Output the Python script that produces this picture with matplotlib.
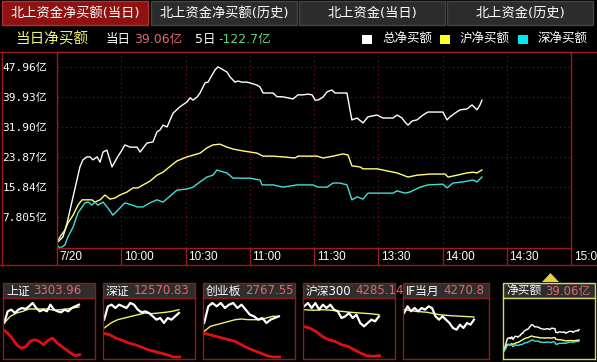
import numpy as np
import matplotlib.pyplot as plt
from matplotlib.patches import Rectangle, Polygon
import matplotlib.transforms as mtransforms

plt.rcParams['font.family'] = ['DejaVu Sans', 'Noto Sans CJK SC']

W, H = 597, 362

# main chart: minutes of trading time since 9:30, values in 亿
total_t = [0, 2.8, 4.7, 6.1, 7.5, 9.3, 10.7, 12.1, 14.0, 15.4, 16.8, 18.7, 20.1, 21.5, 23.3,
           25.7, 28.0, 30.3, 31.7, 34.1, 37.4, 38.8, 42.0, 44.8, 46.7, 48.1, 49.5, 51.4, 52.8,
           54.2, 57.4, 60.7, 62.1, 63.5, 65.4, 66.8, 69.1, 70.5, 72.4, 73.8, 75.2, 77.0, 79.4,
           80.8, 83.1, 84.5, 86.4, 88.7, 90.1, 93.4, 94.8, 96.2, 98.5, 100.9, 102.7, 105.1,
           107.9, 110.2, 112.5, 114.9, 117.2, 119.1, 120.5, 121.9, 124.2, 126.1, 128.4, 129.8,
           132.1, 135.4, 136.8, 137.7, 140.1, 142.9, 145.2, 149.4, 152.2, 156.9, 158.8, 161.1,
           162.5, 163.9, 165.8, 168.1, 170.9, 173.2, 176.5, 180.2, 182.1, 183.5, 185.8, 188.2,
           191.4, 193.8, 196.1, 197.5, 198.4]
total_v = [0.9, 2.5, 6.2, 9.7, 13.2, 17.7, 21.2, 23.1, 23.9, 23.9, 23.1, 23.9, 22.5, 25.2, 25.7,
           21.2, 23.6, 25.7, 27.1, 26.5, 26.5, 25.2, 27.6, 27.9, 30.6, 31.1, 32.4, 31.9, 33.8,
           35.6, 37.3, 38.6, 39.7, 39.1, 39.9, 41.0, 43.7, 43.9, 45.8, 47.2, 48.0, 47.4, 46.6,
           45.3, 43.9, 44.2, 43.9, 43.9, 43.7, 43.1, 42.6, 41.0, 41.0, 41.0, 40.0, 40.0,
           39.7, 39.4, 40.5, 40.5, 40.7, 40.5, 39.1, 39.1, 39.9, 41.3, 41.8, 41.0,
           41.0, 41.0, 36.5, 33.8, 34.3, 33.0, 34.6, 35.1, 34.3, 34.3, 35.1, 34.3,
           33.2, 32.4, 33.5, 33.8, 35.1, 35.9, 35.9, 35.9, 33.8, 34.6, 35.6, 36.5,
           36.7, 37.8, 36.5, 37.8, 39.06]

sh_t = [0, 1.4, 3.7, 5.1, 7.5, 9.8, 11.7, 14.0, 16.3, 17.7, 20.1, 22.4, 24.7, 27.1, 29.4, 32.7,
        35.5, 37.8, 40.2, 43.4, 46.7, 49.5, 51.8, 56.0, 60.7, 66.8, 70.0, 72.8, 76.1, 79.4, 82.2,
        86.8, 93.4, 96.2, 100.9, 105.5, 111.1, 112.5, 121.4, 124.2, 128.9, 133.5, 135.9, 137.7,
        141.5, 142.9, 149.4, 158.8, 163.9, 168.1, 174.2, 181.2, 182.6, 186.8, 191.4, 194.2,
        196.1, 198.4]
sh_v = [1.1, 2.5, 4.3, 6.2, 8.3, 11.0, 12.4, 12.4, 12.4, 11.8, 12.4, 13.7, 12.6, 12.9, 13.7, 14.5,
        15.6, 15.6, 16.4, 17.4, 19.0, 19.8, 20.9, 22.8, 23.9, 24.9, 26.3, 27.1, 27.3, 26.5, 26.0,
        25.5, 24.9, 24.1, 24.1, 23.9, 23.6, 24.1, 24.1, 23.6, 24.1, 24.7, 24.4, 21.5,
        21.2, 20.7, 20.7, 19.6, 18.5, 19.0, 19.3, 19.3, 18.5, 19.0, 19.6, 19.8,
        19.6, 20.4]

sz_t = [0, 1.4, 3.7, 5.1, 7.5, 9.8, 11.7, 13.1, 14.5, 16.3, 17.7, 19.1, 21.5, 23.8, 26.1, 28.5,
        31.7, 35.0, 37.4, 40.2, 43.4, 46.7, 49.5, 51.8, 56.0, 60.7, 63.5, 66.8, 70.0, 72.8, 74.7,
        76.1, 79.4, 82.2, 86.8, 90.1, 94.8, 95.7, 100.9, 105.5, 112.1, 119.5, 121.9, 126.1,
        128.9, 132.1, 135.4, 137.7, 140.1, 142.9, 145.2, 150.8, 156.9, 158.8, 162.5, 164.8,
        169.5, 173.2, 180.2, 182.1, 184.9, 189.6, 194.2, 196.1, 198.4]
sz_v = [0.3, -0.5, 0.3, 2.5, 5.1, 8.9, 10.5, 11.6, 11.8, 11.0, 11.8, 11.0, 11.8, 10.2, 8.3, 9.7,
        11.6, 11.0, 10.5, 10.5, 11.6, 12.4, 11.8, 12.9, 15.0, 15.3, 15.8, 17.2, 18.5, 19.0, 20.4,
        20.1, 19.6, 18.2, 18.2, 18.2, 17.7, 16.4, 16.4, 15.8, 16.4, 16.4, 15.8, 15.8,
        16.9, 16.9, 16.4, 12.4, 13.2, 12.6, 14.2, 14.2, 14.2, 14.8, 14.2, 14.5,
        15.8, 16.4, 16.6, 15.6, 16.9, 17.2, 17.7, 17.2, 18.5]

ytick_vals = [7.805, 15.84, 23.87, 31.90, 39.93, 47.96]
ytick_labels = ['7.805亿', '15.84亿', '23.87亿', '31.90亿', '39.93亿', '47.96亿']
xtick_vals = [0, 30, 60, 90, 120, 150, 180, 210, 240]
xtick_labels = ['7/20', '10:00', '10:30', '11:00', '11:30', '13:30', '14:00', '14:30', '15:00']

tab_labels = ['北上资金净买额(当日)', '北上资金净买额(历史)', '北上资金(当日)', '北上资金(历史)']
today_net = '39.06亿'
five_day_net = '-122.7亿'

# thumbnails (relative units)
sh_index = [4.0, 7.5, 8.0, 7.0, 8.0, 8.5, 8.2, 9.0, 10.0, 8.5, 7.5, 8.0, 7.5, 9.5, 8.0, 7.5, 7.2, 8.0, 7.5, 8.5, 9.0, 9.5]
sh_avg = [4.0, 6.0, 7.0, 7.5, 8.2, 8.2, 8.2, 8.2, 7.8, 8.0, 8.2, 8.5, 8.8]
sh_flow = [2.0, 1.0, -0.5, -2.5, -3.5, -3.2, -1.5, -1.0, -1.5, -2.5, -1.2, -0.5, -2.0, -3.0, -4.0, -5.0, -5.8, -5.5]
sz_index = [5.0, 9.0, 9.5, 8.5, 9.5, 9.0, 8.5, 10.0, 9.5, 8.0, 7.2, 7.5, 7.0, 6.0, 5.0, 5.5, 4.0, 5.5, 5.0, 6.0, 7.0]
sz_avg = [2.5, 4.0, 5.0, 5.5, 6.0, 6.5, 7.0, 6.8, 7.0, 7.2, 7.5, 8.0]
sz_flow = [1.0, 0.5, -0.5, -1.2, -2.0, -2.5, -3.2, -4.0, -4.5, -5.0, -5.5, -6.2, -6.2]
cyb_index = [4.0, 9.0, 10.0, 9.0, 10.0, 8.5, 9.5, 10.0, 8.5, 9.5, 8.0, 6.5, 6.0, 5.0, 5.5, 4.0, 5.0, 5.5, 6.0]
cyb_avg = [1.5, 3.0, 3.5, 4.0, 4.5, 5.0, 5.2, 5.0, 5.0, 5.0, 5.5, 6.0, 6.0]
cyb_flow = [1.0, 0.5, 0.0, -0.5, -1.0, -1.5, -2.5, -3.5, -4.3, -5.0, -5.8, -6.2, -6.2]
hs300_index = [9.0, 10.0, 8.5, 10.0, 8.0, 9.5, 8.5, 9.5, 8.0, 7.5, 5.5, 6.0, 7.0, 5.5, 6.5, 4.0, 3.0, 4.0, 5.0, 4.5, 6.0]
hs300_avg = [8.0, 7.8, 8.0, 7.8, 7.5, 7.2, 7.0, 6.8, 6.5]
hs300_flow = [3.0, 2.5, 1.5, 0.0, -1.0, -1.5, -2.5, -3.0, -4.0, -5.0, -5.8, -6.0, -5.8]
if_index = [7.0, 9.0, 7.5, 8.5, 7.5, 8.5, 8.0, 9.0, 8.5, 6.0, 5.0, 6.0, 5.0, 4.0, 2.5, 2.0, 3.5, 2.5, 4.0, 3.5, 5.0]
if_avg = [8.0, 7.5, 7.2, 6.5, 6.2, 6.0, 5.8]

thumb_names = ['上证', '深证', '创业板', '沪深300', 'IF当月', '净买额']
thumb_values = ['3303.96', '12570.83', '2767.55', '4285.14', '4270.8', '39.06亿']

RED = '#a01818'
GRID = '#8a1414'
PINK = '#e06a6a'


def rect(x0, y0, x1, y1):
    return [x0 / W, 1 - y1 / H, (x1 - x0) / W, (y1 - y0) / H]


fig = plt.figure(figsize=(W / 100, H / 100), dpi=100, facecolor='black')

# background layer for tabs, headers and frames, in pixel units
bg = fig.add_axes([0, 0, 1, 1])
bg.set_xlim(0, W)
bg.set_ylim(H, 0)
bg.axis('off')
bg.set_facecolor('black')

tab_x = [(2, 148), (151, 297), (299, 445), (447, 593)]
for i, (x0, x1) in enumerate(tab_x):
    fc = '#8e1212' if i == 0 else '#2c2c2c'
    ec = '#b03030' if i == 0 else '#454545'
    bg.add_patch(Rectangle((x0, 1), x1 - x0, 24, facecolor=fc, edgecolor=ec, lw=1))
    bg.text((x0 + x1) / 2, 13.5, tab_labels[i], color='white', fontsize=9.5,
            ha='center', va='center')

bg.text(15, 39, '当日净买额', color='#f2f27a', fontsize=10.5, va='center')
bg.text(106, 39, '当日', color='white', fontsize=9, va='center')
bg.text(134, 39, today_net, color=PINK, fontsize=9, va='center')
bg.text(195, 39, '5日', color='white', fontsize=9, va='center')
bg.text(218, 39, five_day_net, color='#5ad27a', fontsize=9, va='center')

legend_items = [('总净买额', 'white', 362), ('沪净买额', '#ffff30', 440), ('深净买额', '#00e8f0', 518)]
for name, col, lx in legend_items:
    bg.add_patch(Rectangle((lx, 35), 10, 9, facecolor=col, edgecolor='none'))
    bg.text(lx + 20, 39.5, name, color='white', fontsize=9, va='center')

# frame lines around the main chart
bg.plot([0, 596], [52, 52], color=RED, lw=1)
bg.plot([0, 596], [265, 265], color=RED, lw=1)
bg.plot([2, 2], [52, 265], color=RED, lw=1)

# main chart
ax = fig.add_axes(rect(57, 52, 571, 248))
ax.set_facecolor('black')
ax.plot(total_t, total_v, color='white', lw=1)
ax.plot(sh_t, sh_v, color='#ffff80', lw=1)
ax.plot(sz_t, sz_v, color='#40e0d8', lw=1)
ax.set_xlim(0, 240)
ax.set_ylim(-0.49, 51.97)
for s in ax.spines.values():
    s.set_color(RED)
    s.set_linewidth(1)
ax.set_yticks(ytick_vals)
ax.set_yticklabels(ytick_labels, color='white', fontsize=8,
                   family=['DejaVu Sans Mono', 'Noto Sans CJK SC'])
ax.set_xticks(xtick_vals)
ax.set_xticklabels([])
ax.tick_params(length=0, pad=7)
ax.grid(True, color=GRID, linestyle=(0, (1, 3)), lw=0.8)

trans = mtransforms.blended_transform_factory(ax.transData, ax.transAxes)
ax.vlines(xtick_vals, -17 / 196, 0, transform=trans, color=RED, lw=1, clip_on=False)
for xv, lab in zip(xtick_vals, xtick_labels):
    ax.text(xv + 1.2, -8.5 / 196, lab, transform=trans, color='white', fontsize=8.5,
            family='Liberation Sans', ha='left', va='center', clip_on=False)

# thumbnails
thumb_x = [(3, 95), (103, 195), (203, 295), (303, 395), (403, 489), (503, 595)]
thumb_lines = [
    (sh_index, sh_avg, sh_flow),
    (sz_index, sz_avg, sz_flow),
    (cyb_index, cyb_avg, cyb_flow),
    (hs300_index, hs300_avg, hs300_flow),
    (if_index, if_avg, None),
]
for i, (x0, x1) in enumerate(thumb_x):
    border = '#d8d860' if i == 5 else '#8a1c1c'
    bg.add_patch(Rectangle((x0, 283), x1 - x0, 15, facecolor='#2e2e2e', edgecolor=border, lw=1))
    t1 = bg.text(x0 + 3, 291, thumb_names[i], color='white', fontsize=8.5, va='center')
    bg.annotate(thumb_values[i], xycoords=t1, xy=(1, 0.5), xytext=(3, 0),
                textcoords='offset points', color=PINK, fontsize=8.5, va='center')

    tax = fig.add_axes(rect(x0, 298, x1, 359))
    tax.set_facecolor('black')
    tax.set_xticks([])
    tax.set_yticks([])
    for s in tax.spines.values():
        s.set_color(border)
        s.set_linewidth(1)
    tax.set_xlim(0, 240)
    if i < 5:
        idx, avg, flow = thumb_lines[i]
        tax.set_ylim(-6.8, 11.5)
        if flow is not None:
            tax.plot(np.linspace(0, 200, len(flow)), flow, color='#e01010', lw=2)
        tax.plot(np.linspace(3, 198, len(avg)), avg, color='#f0f070', lw=1)
        tax.plot(np.linspace(3, 198, len(idx)), idx, color='white', lw=1.6)
    else:
        tax.set_ylim(-14, 96)
        tax.plot(total_t, total_v, color='white', lw=1)
        tax.plot(sh_t, sh_v, color='#ffff80', lw=1)
        tax.plot(sz_t, sz_v, color='#40e0d8', lw=1)

bg.add_patch(Polygon([(542, 282), (559, 282), (550.5, 273)], closed=True,
                     facecolor='#e8d040', edgecolor='none'))

fig.savefig('out.png', dpi=100, facecolor='black')
